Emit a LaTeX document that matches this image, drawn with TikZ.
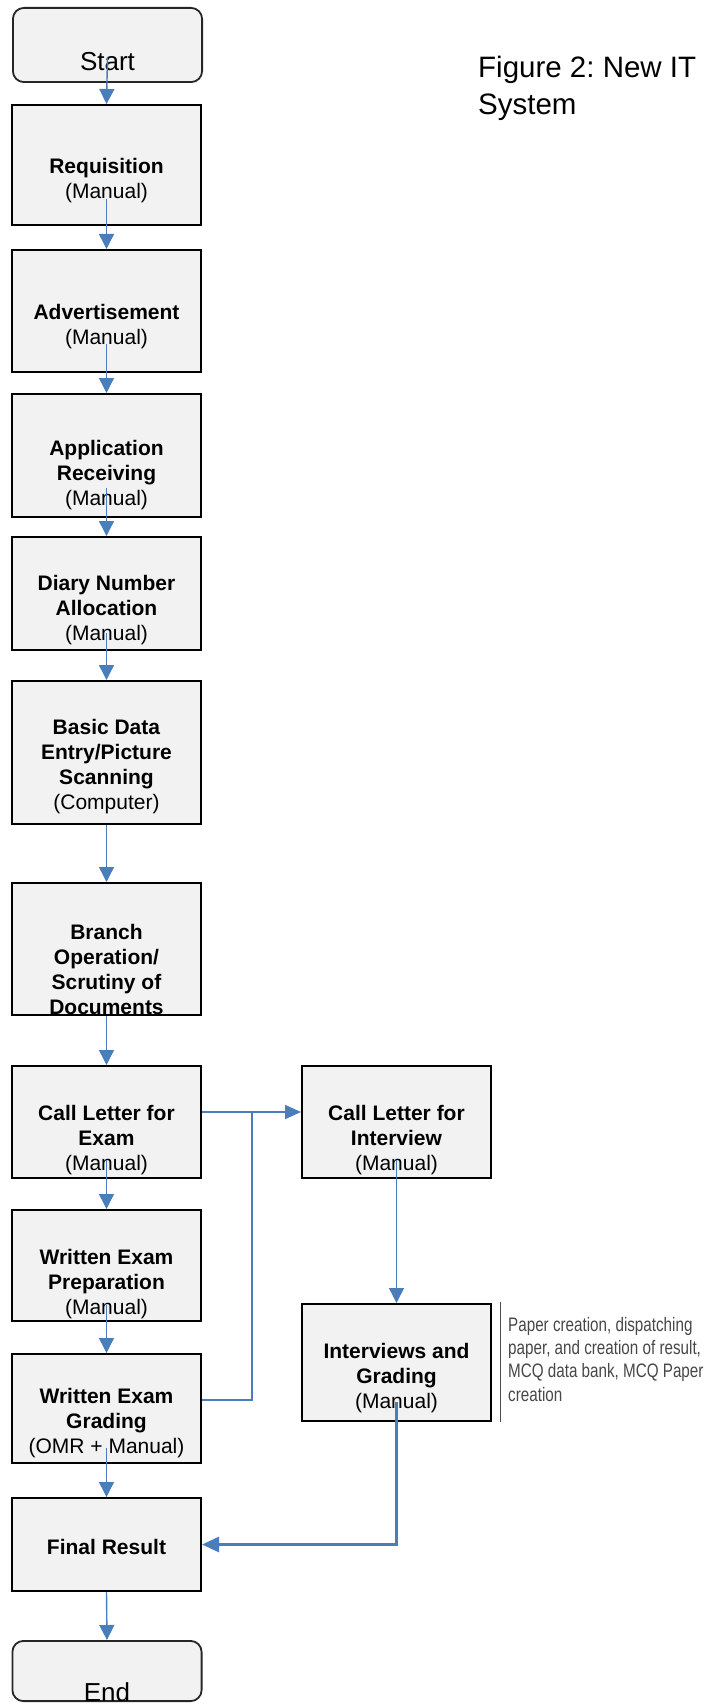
\documentclass[tikz,border=0pt]{standalone}
\usepackage{fontspec}
\setmainfont{Liberation Sans}
\newfontfamily\notefont[FakeStretch=0.78]{Liberation Sans}
\usetikzlibrary{arrows.meta,calc}
\frenchspacing

\definecolor{flowblue}{RGB}{74,126,187}
\definecolor{boxfill}{RGB}{242,242,242}

\begin{document}
\begin{tikzpicture}[x=1pt,y=-1pt,
  box/.style={draw=black, line width=2.2pt, fill=boxfill,
    minimum width=188.8pt, inner sep=0pt},
  term/.style={draw=black!85, line width=1.8pt, fill=boxfill,
    rounded corners=11pt, minimum width=189.2pt, inner sep=0pt},
  lbl/.style={align=center, font=\fontsize{21}{25}\selectfont, inner sep=0pt},
  termlbl/.style={font=\fontsize{26}{30}\selectfont, inner sep=0pt},
  flow/.style={draw=flowblue, line width=1.4pt,
    -{Triangle[length=15pt,width=15pt]}},
  bus/.style={draw=flowblue, line width=2.9pt},
]
\useasboundingbox (0,0) rectangle (709,1704);

% ---- left column boxes
\node[term, minimum height=74.2pt] (start) at (107.5,45) {};
\node[box, minimum height=119.8pt] (req)    at (106.5,165) {};
\node[box, minimum height=121.8pt] (adv)    at (106.5,311) {};
\node[box, minimum height=122.8pt] (app)    at (106.5,455.5) {};
\node[box, minimum height=112.8pt] (diary)  at (106.5,593.5) {};
\node[box, minimum height=142.8pt] (basic)  at (106.5,752.5) {};
\node[box, minimum height=131.8pt] (branch) at (106.5,949) {};
\node[box, minimum height=111.8pt] (cle)    at (106.5,1122) {};
\node[box, minimum height=110.8pt] (wep)    at (106.5,1265.5) {};
\node[box, minimum height=108.8pt] (weg)    at (106.5,1408.5) {};
\node[box, minimum height=92.8pt]  (final)  at (106.5,1544.5) {};
\node[term, minimum height=60.2pt] (end)    at (107,1671) {};

% ---- right column boxes
\node[box, minimum height=111.8pt] (cli) at (396.5,1122) {};
\node[box, minimum height=116.8pt] (ig)  at (396.5,1362.5) {};

% ---- box texts
\node[termlbl] (startT) at (107.5,62) {Start};
\node[lbl] (reqT)    at (106.5,181)  {\textbf{Requisition}\\(Manual)};
\node[lbl] (advT)    at (106.5,327)  {\textbf{Advertisement}\\(Manual)};
\node[lbl] (appT)    at (106.5,475)  {\textbf{Application}\\\textbf{Receiving}\\(Manual)};
\node[lbl] (diaryT)  at (106.5,610)  {\textbf{Diary Number}\\\textbf{Allocation}\\(Manual)};
\node[lbl] (basicT)  at (106.5,767)  {\textbf{Basic Data}\\\textbf{Entry/Picture}\\\textbf{Scanning}\\(Computer)};
\node[lbl] (branchT) at (106.5,969)  {\textbf{Branch}\\\textbf{Operation/}\\\textbf{Scrutiny of}\\\textbf{Documents}};
\node[lbl] (cleT)    at (106.5,1140) {\textbf{Call Letter for}\\\textbf{Exam}\\(Manual)};
\node[lbl] (wepT)    at (106.5,1284) {\textbf{Written Exam}\\\textbf{Preparation}\\(Manual)};
\node[lbl] (wegT)    at (106.5,1423) {\textbf{Written Exam}\\\textbf{Grading}\\(OMR + Manual)};
\node[lbl] (finalT)  at (106.5,1547) {\textbf{Final Result}};
\node[termlbl] (endT) at (107,1692) {End};
\node[lbl] (cliT)    at (396.5,1140) {\textbf{Call Letter for}\\\textbf{Interview}\\(Manual)};
\node[lbl] (igT)     at (396.5,1378) {\textbf{Interviews and}\\\textbf{Grading}\\(Manual)};

% ---- title
\node[anchor=north west, align=left, inner sep=0pt,
  font=\fontsize{29.5}{37}\selectfont] (title) at (478,56)
  {Figure 2: New IT\\System};

% ---- side note with its bar
\node[anchor=north west, align=left, inner sep=0pt, text=black!72,
  font=\notefont\fontsize{19.5}{23.3}\selectfont] (note) at (508,1316.8)
  {Paper creation, dispatching\\paper, and creation of result,\\MCQ data bank, MCQ Paper\\creation};
\draw[black!70, line width=1pt] (500.5,1302) -- (500.5,1422);

% ---- main flow
\draw[flow] ([yshift=26pt]start.south) -- (req.north);
\draw[flow] ([yshift=27pt]req.south) -- (adv.north);
\draw[flow] ([yshift=29pt]adv.south) -- (app.north);
\draw[flow] ([yshift=30pt]app.south) -- (diary.north);
\draw[flow] ([yshift=18pt]diary.south) -- (basic.north);
\draw[flow] (basic.south) -- (branch.north);
\draw[flow] (branch.south) -- (cle.north);
\draw[flow] ([yshift=19pt]cle.south) -- (wep.north);
\draw[flow] ([yshift=17pt]wep.south) -- (weg.north);
\draw[flow] ([yshift=16pt]weg.south) -- (final.north);
\draw[flow] (final.south) -- (end.north);
\draw[flow] ([yshift=19pt]cli.south) -- (ig.north);

% ---- branch to the interview column
\coordinate (jtop) at (252,1112);
\coordinate (jbot) at (252,1400);
\draw[flow, line width=1.9pt, -{Triangle[length=16pt,width=14pt]}]
  (cle.east |- jtop) -- (cli.west |- jtop);
\draw[bus] (weg.east |- jbot) -- (jbot) -- ([yshift=-1pt]jtop);

% ---- interview grading back to the final result
\draw[bus, -{Triangle[length=17pt,width=15pt]}]
  ([yshift=20pt]ig.south) -- (ig.south |- final.east) -- (final.east);
\end{tikzpicture}
\end{document}
